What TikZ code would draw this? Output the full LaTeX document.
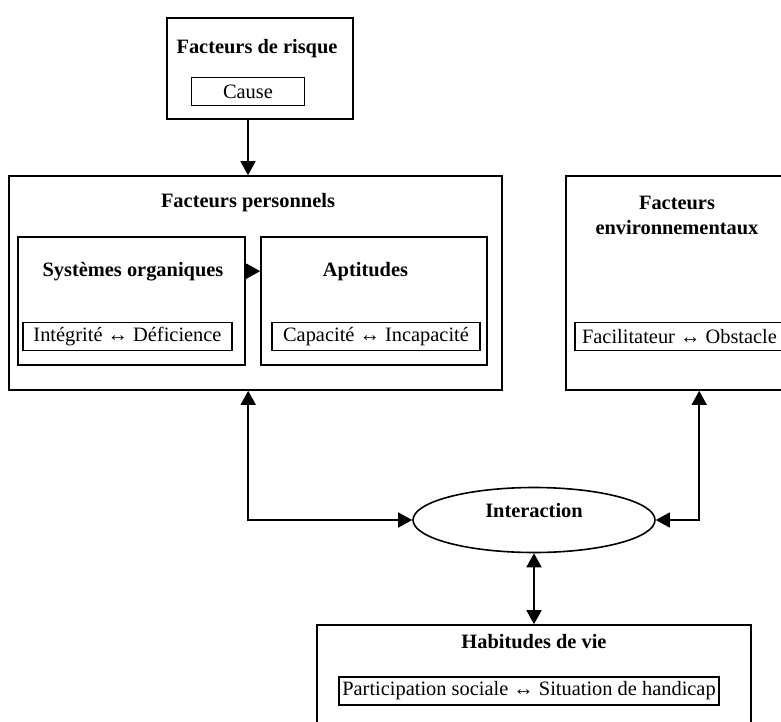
\documentclass[tikz,border=0pt]{standalone}
\usepackage{fontspec}
\setmainfont{Liberation Serif}
\usetikzlibrary{arrows.meta,shapes.geometric}
\newcommand{\figfont}{\fontsize{10.2}{12.5}\selectfont}

\begin{document}
\begin{tikzpicture}[x=0.5pt, y=-0.5pt,
    font=\figfont,
    block/.style={draw, line width=0.8pt, inner sep=0pt},
    tag/.style={draw, line width=0.8pt, inner sep=0pt, minimum height=14pt},
    head/.style={font=\figfont\bfseries, anchor=base},
    link/.style={line width=0.8pt, -{Triangle[length=7pt,width=7.5pt]}},
    twoway/.style={line width=0.8pt, {Triangle[length=7pt,width=7.5pt]}-{Triangle[length=7pt,width=7.5pt]}}
  ]
  \useasboundingbox (0,0) rectangle (781,722);

  % Facteurs de risque
  \node[block, minimum width=93pt, minimum height=50.5pt] (risk) at (260,68.5) {};
  \node[head] (risktitle) at (257,54) {Facteurs de risque};
  \node[tag, minimum width=56.5pt] (cause) at (248,91.5) {Cause};

  % Facteurs personnels
  \node[block, minimum width=246.5pt, minimum height=107pt] (pers) at (255.5,283) {};
  \node[head] (perstitle) at (248,207) {Facteurs personnels};
  \node[block, minimum width=113.5pt, minimum height=64pt] (sys) at (131.5,301) {};
  \node[head] (systitle) at (133,276) {Systèmes organiques};
  \node[tag, minimum width=104.5pt] (integ) at (127.5,336.5) {Intégrité ↔ Déficience};
  \node[block, minimum width=113pt, minimum height=64pt] (apt) at (374,301) {};
  \node[head] (apttitle) at (365.5,276) {Aptitudes};
  \node[tag, minimum width=104pt] (capa) at (376,336.5) {Capacité ↔ Incapacité};

  % Facteurs environnementaux
  \node[block, minimum width=111pt, minimum height=107pt] (env) at (677,283) {};
  \node[head, anchor=center, align=center] (envtitle) at (677,215) {Facteurs\\environnementaux};
  \node[tag, minimum width=104.5pt] (facil) at (679.5,336.5) {Facilitateur ↔ Obstacle};

  % Interaction
  \node[ellipse, draw, line width=0.8pt, inner sep=0pt, minimum width=121pt, minimum height=32.5pt] (inter) at (534,520) {};
  \node[head] (intertitle) at (534,517) {Interaction};

  % Habitudes de vie
  \node[block, minimum width=217pt, minimum height=50pt] (hab) at (534,675) {};
  \node[head] (habtitle) at (534,648) {Habitudes de vie};
  \node[tag, minimum width=190pt] (partic) at (529,691) {Participation sociale ↔ Situation de handicap};

  % liens
  \draw[link] (cause |- risk.south) -- (cause |- pers.north);
  \draw[link] (sys.east |- systitle) -- (apt.west |- systitle);
  \draw[twoway] ([xshift=120pt]pers.south west) |- (inter.west);
  \draw[twoway] ([xshift=67pt]env.south west) |- (inter.east);
  \draw[twoway] (inter.south) -- (hab.north);
\end{tikzpicture}
\end{document}
